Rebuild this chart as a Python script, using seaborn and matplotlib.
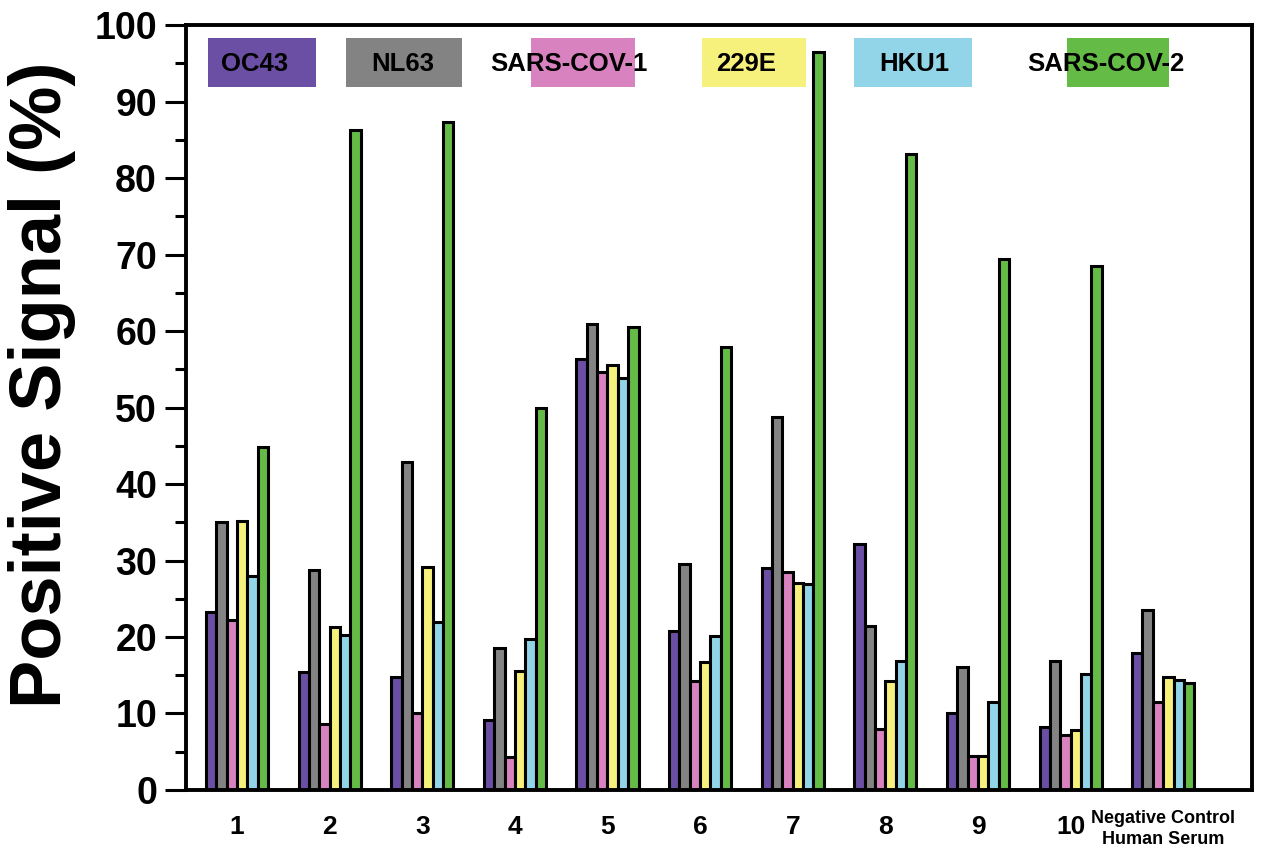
import seaborn as sns
import pandas as pd
import matplotlib.pyplot as plt
from matplotlib.patches import Rectangle

#############################################################################
# data
#############################################################################
groups = ['1', '2', '3', '4', '5', '6', '7', '8', '9', '10',
          'Negative Control\nHuman Serum']
viruses = ['OC43', 'NL63', 'SARS-COV-1', '229E', 'HKU1', 'SARS-COV-2']

oc43  = [23.3, 15.4, 14.8,  9.2, 56.3, 20.8, 29.0, 32.2, 10.1,  8.2, 17.9]
nl63  = [35.0, 28.7, 42.9, 18.6, 60.9, 29.6, 48.8, 21.4, 16.1, 16.8, 23.5]
sars1 = [22.2,  8.6, 10.1,  4.3, 54.6, 14.3, 28.5,  8.0,  4.4,  7.2, 11.5]
e229  = [35.1, 21.3, 29.1, 15.5, 55.5, 16.7, 27.0, 14.2,  4.4,  7.8, 14.8]
hku1  = [28.0, 20.3, 22.0, 19.8, 53.8, 20.1, 26.9, 16.8, 11.5, 15.1, 14.4]
sars2 = [44.8, 86.3, 87.3, 50.0, 60.5, 57.9, 96.5, 83.1, 69.4, 68.5, 14.0]

colors = ['#6b4fa5', '#838383', '#d882c0', '#f6f07c', '#93d5e8', '#64bb46']

rows = []
for name, vals in zip(viruses, [oc43, nl63, sars1, e229, hku1, sars2]):
    for g, v in zip(groups, vals):
        rows.append({'group': g, 'virus': name, 'signal': v})
df = pd.DataFrame(rows)

#############################################################################
# plot
#############################################################################
sns.set_style('ticks')
plt.rcParams['font.family'] = ['Liberation Sans', 'DejaVu Sans']
plt.rcParams['font.weight'] = 'bold'
plt.rcParams['text.color'] = 'black'
plt.rcParams['axes.labelcolor'] = 'black'
plt.rcParams['xtick.color'] = 'black'
plt.rcParams['ytick.color'] = 'black'
plt.rcParams['axes.edgecolor'] = 'black'

fig = plt.figure(figsize=(12.66, 8.48), dpi=100)
ax = fig.add_axes([0.147, 0.0684, 0.842, 0.9021])

sns.barplot(data=df, x='group', y='signal', hue='virus', order=groups,
            hue_order=viruses, palette=colors, width=0.67, saturation=1,
            edgecolor='black', linewidth=2.2, legend=False, ax=ax)

ax.set_ylim(0, 100)
ax.set_xlim(-0.55, 10.96)
ax.set_yticks(range(0, 101, 10))
ax.set_yticks(range(5, 100, 10), minor=True)
ax.tick_params(axis='y', which='major', length=15, width=2.2, labelsize=27, pad=6)
ax.tick_params(axis='y', which='minor', length=8, width=2.2)
ax.tick_params(axis='x', length=0, labelsize=19, pad=18)
for lab in ax.get_yticklabels():
    lab.set_fontweight('heavy')
for lab in ax.get_xticklabels():
    lab.set_fontweight('bold')
    if lab.get_text().startswith('Negative'):
        lab.set_fontsize(13)
        lab.set_linespacing(1.3)
        lab.set_y(0.006)

for s in ax.spines.values():
    s.set_linewidth(2.8)
    s.set_color('black')
    s.set_visible(True)

ax.set_xlabel('')
ax.set_ylabel('Positive Signal (%)', fontsize=52, fontweight='bold')
ax.yaxis.set_label_coords(-0.103, 0.53)

# legend boxes drawn as coloured blocks with labels over them
def px_x(p):
    return (p - 186) / 1066.0

def px_y(p):
    return (790 - p) / 765.0

boxes = [(208, 316), (346, 462), (531, 635), (702, 806), (854, 972), (1067, 1169)]
text_x = [221, 371, 490, 716, 879, 1027]
for (x0, x1), tx, c, name in zip(boxes, text_x, colors, viruses):
    ax.add_patch(Rectangle((px_x(x0), px_y(87)), px_x(x1) - px_x(x0),
                           px_y(38) - px_y(87), transform=ax.transAxes,
                           facecolor=c, edgecolor='none', zorder=3))
    ax.text(px_x(tx), px_y(64), name, transform=ax.transAxes, fontsize=18.5,
            fontweight='bold', va='center', ha='left', zorder=4)

plt.savefig('out.png', dpi=100)
